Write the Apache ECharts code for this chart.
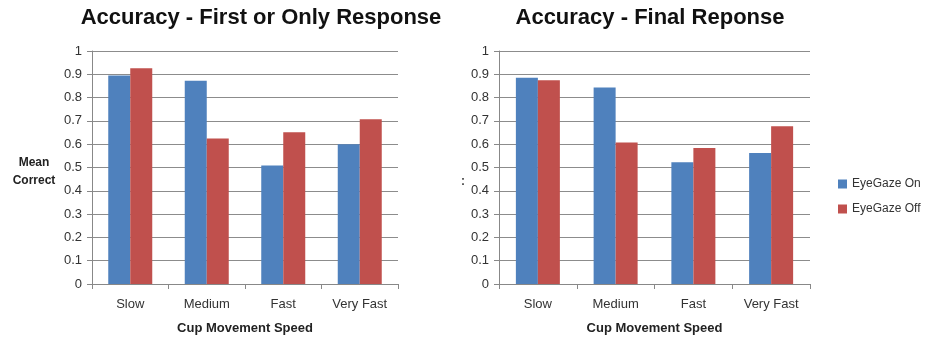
<!DOCTYPE html>
<html>
<head>
<meta charset="utf-8">
<script src="https://cdn.jsdelivr.net/npm/echarts@6/dist/echarts.min.js"></script>
<style>
  html, body { margin: 0; padding: 0; background: #fff; }
  #chart { width: 926px; height: 340px; }
</style>
</head>
<body>
<div id="chart"></div>
<script>
// categories and values
const categories = ['Slow', 'Medium', 'Fast', 'Very Fast']
const firstOn = [0.895, 0.872, 0.509, 0.600]
const firstOff = [0.926, 0.624, 0.651, 0.707]
const finalOn = [0.885, 0.843, 0.523, 0.562]
const finalOff = [0.874, 0.607, 0.584, 0.677]
const seriesNames = ['EyeGaze On', 'EyeGaze Off']

const blue = '#4F81BD'
const red = '#C0504D'
const font = 'Liberation Sans'

const chart = echarts.init(document.getElementById('chart'))

const xAxisBase = (idx) => ({
  type: 'category',
  gridIndex: idx,
  data: categories,
  name: 'Cup Movement Speed',
  nameLocation: 'middle',
  nameGap: 38,
  nameTextStyle: { fontFamily: font, fontSize: 13, fontWeight: 'bold', color: '#222' },
  axisLine: { lineStyle: { color: '#888', width: 1 } },
  axisTick: { show: true, length: 5, lineStyle: { color: '#888' } },
  axisLabel: { fontFamily: font, fontSize: 13, color: '#333', margin: 14 }
})

const yAxisBase = (idx) => ({
  type: 'value',
  gridIndex: idx,
  min: 0,
  max: 1,
  interval: 0.1,
  axisLine: { show: true, lineStyle: { color: '#888', width: 1 } },
  axisTick: { show: true, length: 5, lineStyle: { color: '#888' } },
  axisLabel: { fontFamily: font, fontSize: 13, color: '#333', margin: 10,
    formatter: v => String(Math.round(v * 10) / 10) },
  splitLine: { lineStyle: { color: '#8c8c8c', width: 1 } }
})

const barSeries = (name, data, color, idx) => ({
  name,
  type: 'bar',
  xAxisIndex: idx,
  yAxisIndex: idx,
  data,
  barWidth: 22,
  barGap: '0%',
  itemStyle: { color },
  animation: false
})

chart.setOption({
  animation: false,
  title: [
    { text: 'Accuracy - First or Only Response', left: 256, top: 2, textAlign: 'center',
      textStyle: { fontFamily: font, fontSize: 22, fontWeight: 'bold', color: '#111' } },
    { text: 'Accuracy - Final Reponse', left: 645, top: 2, textAlign: 'center',
      textStyle: { fontFamily: font, fontSize: 22, fontWeight: 'bold', color: '#111' } },
    { text: 'Mean\nCorrect', left: 29, top: 149, textAlign: 'center',
      textStyle: { fontFamily: font, fontSize: 12, fontWeight: 'bold', color: '#222', lineHeight: 18 } },
    { text: ':', left: 456, top: 171,
      textStyle: { fontFamily: font, fontSize: 12, color: '#444' } }
  ],
  legend: {
    data: seriesNames,
    orient: 'vertical',
    left: 833,
    top: 173,
    icon: 'rect',
    itemWidth: 9,
    itemHeight: 9,
    itemGap: 13,
    textStyle: { fontFamily: font, fontSize: 12, color: '#333' }
  },
  grid: [
    { left: 92, right: 528, top: 51, bottom: 55 },
    { left: 499, right: 116, top: 51, bottom: 54 }
  ],
  xAxis: [xAxisBase(0), xAxisBase(1)],
  yAxis: [yAxisBase(0), yAxisBase(1)],
  series: [
    barSeries(seriesNames[0], firstOn, blue, 0),
    barSeries(seriesNames[1], firstOff, red, 0),
    barSeries(seriesNames[0], finalOn, blue, 1),
    barSeries(seriesNames[1], finalOff, red, 1)
  ]
})
</script>
</body>
</html>
